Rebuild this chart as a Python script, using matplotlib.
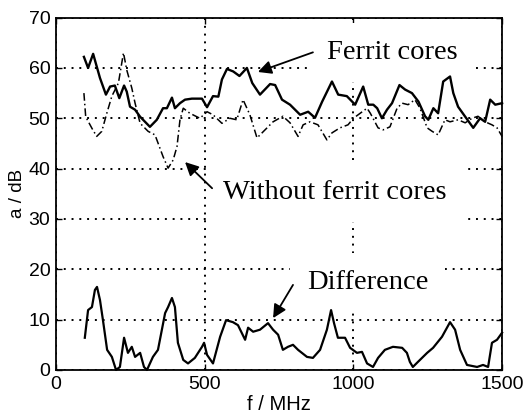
import numpy as np
import matplotlib
matplotlib.use('Agg')
import matplotlib.pyplot as plt

# with ferrit cores
f_ferrit = [94, 108, 125, 148, 168, 182, 198, 213, 229, 238, 249, 266, 283, 316, 339, 360, 373, 390, 400, 417,
            434, 457, 491, 508, 528, 546, 558, 575, 596, 617, 642, 660, 686, 720, 737, 760, 787, 821, 848, 871,
            895, 928, 949, 978, 1006, 1033, 1050, 1067, 1080, 1096, 1113, 1130, 1155, 1174, 1197, 1219, 1241,
            1252, 1269, 1285, 1302, 1325, 1336, 1352, 1375, 1403, 1426, 1443, 1460, 1477, 1500]
a_ferrit = [62.2, 60.0, 62.8, 58.0, 54.7, 56.3, 56.5, 54.0, 56.5, 55.3, 52.3, 51.7, 50.3, 48.3, 49.7, 52.0, 52.0,
            54.1, 52.0, 53.0, 53.7, 53.9, 53.9, 52.2, 54.4, 54.3, 57.7, 59.8, 59.3, 58.4, 60.0, 57.0, 54.7, 56.8,
            56.6, 53.7, 52.7, 50.7, 51.3, 50.1, 53.3, 57.3, 54.7, 54.4, 52.7, 56.3, 52.7, 52.7, 52.0, 50.0, 51.7,
            53.0, 56.6, 55.7, 55.0, 53.3, 50.4, 49.7, 52.0, 51.0, 57.3, 58.3, 55.0, 52.3, 50.4, 48.1, 50.0, 49.3,
            53.7, 52.7, 53.0]

# without ferrit cores
f_without = [94, 100, 121, 137, 154, 171, 188, 210, 227, 238, 255, 266, 283, 310, 333, 360, 377, 394, 407, 417,
             428, 450, 484, 508, 528, 558, 585, 608, 629, 652, 676, 703, 730, 763, 787, 814, 831, 854, 881, 911,
             928, 955, 982, 1000, 1023, 1046, 1057, 1083, 1100, 1123, 1147, 1164, 1184, 1207, 1224, 1248, 1265,
             1285, 1308, 1325, 1352, 1376, 1399, 1419, 1443, 1466, 1483, 1500]
a_without = [55.0, 50.3, 48.0, 46.4, 47.4, 51.0, 54.4, 57.0, 63.0, 59.6, 56.0, 53.0, 49.0, 47.4, 46.7, 42.4, 40.1,
             41.7, 44.4, 49.7, 52.0, 51.0, 50.0, 51.3, 50.7, 49.0, 50.0, 49.7, 53.7, 50.7, 46.1, 47.7, 49.3, 50.4,
             49.1, 46.4, 48.7, 49.3, 48.7, 45.7, 47.1, 48.1, 48.7, 50.0, 51.0, 52.0, 51.0, 48.1, 47.7, 48.3, 52.0,
             53.0, 52.7, 53.7, 52.0, 48.1, 47.4, 46.7, 49.7, 49.3, 49.7, 49.1, 50.0, 50.4, 49.3, 48.7, 48.1, 46.4]

# difference
f_diff = [97, 108, 121, 131, 138, 148, 158, 172, 188, 202, 215, 229, 242, 255, 266, 283, 296, 306, 326, 343,
          367, 377, 390, 400, 410, 428, 444, 467, 491, 498, 508, 528, 552, 572, 595, 612, 636, 646, 663, 686,
          713, 730, 747, 763, 780, 797, 814, 844, 864, 888, 911, 925, 935, 948, 972, 989, 1012, 1029, 1046, 1066,
          1083, 1106, 1133, 1164, 1180, 1190, 1200, 1217, 1248, 1268, 1298, 1325, 1342, 1359, 1382, 1416, 1436,
          1453, 1466, 1483, 1500]
a_diff = [6.4, 11.9, 12.5, 15.9, 16.5, 13.9, 9.9, 4.0, 2.6, 0.0, 0.6, 6.4, 3.4, 4.6, 2.6, 3.4, 0.6, 0.0, 2.6, 4.0,
          11.3, 12.5, 14.3, 12.5, 5.4, 2.0, 1.3, 2.4, 4.6, 5.4, 3.0, 1.3, 6.6, 9.9, 9.5, 8.9, 6.0, 8.4, 7.6, 8.0,
          9.3, 8.0, 7.0, 4.0, 4.6, 5.0, 4.0, 2.6, 2.4, 4.0, 8.0, 11.9, 9.3, 6.4, 6.4, 4.4, 3.4, 3.6, 1.3, 0.6,
          2.4, 4.0, 4.6, 4.4, 3.4, 1.6, 0.6, 1.6, 3.4, 4.4, 6.6, 9.5, 8.0, 4.0, 1.0, 0.6, 1.0, 0.6, 5.4, 6.0, 7.4]

xticks = [0, 500, 1000, 1500]
yticks = [0, 10, 20, 30, 40, 50, 60, 70]

plt.rcParams['font.family'] = ['Liberation Sans', 'DejaVu Sans']

fig = plt.figure(figsize=(5.23, 4.19), dpi=100)
ax = fig.add_axes([0.107, 0.117, 0.853, 0.841])

ax.plot(f_ferrit, a_ferrit, color='black', lw=1.7, zorder=4, clip_on=False)
ax.plot(f_without, a_without, color='black', lw=1.1, ls=(0, (5, 2, 1, 2)), zorder=4, clip_on=False)
ax.plot(f_diff, a_diff, color='black', lw=1.6, zorder=4, clip_on=False)

ax.set_xlim(0, 1500)
ax.set_ylim(0, 70)
ax.set_xticks(xticks)
ax.set_yticks(yticks)
ax.tick_params(direction='in', length=4, width=1, top=True, right=True, labelsize=14, pad=4)
ax.grid(True, color='black', ls=(0, (1, 3)), lw=1.4)
for s in ax.spines.values():
    s.set_linewidth(1.3)

ax.set_xlabel('f / MHz', fontsize=14.5, labelpad=2)
ax.set_ylabel('a / dB', fontsize=13.5, labelpad=2)

# annotations
box = dict(boxstyle='square,pad=0.6', fc='white', ec='none')
ax.text(1132, 61.8, 'Ferrit cores', family='Liberation Serif', fontsize=20.5,
        ha='center', va='baseline', bbox=box, zorder=3)
ax.text(937, 34.0, 'Without ferrit cores', family='Liberation Serif', fontsize=20.5,
        ha='center', va='baseline', bbox=box, zorder=3)
ax.text(1048, 16.1, 'Difference', family='Liberation Serif', fontsize=20.5,
        ha='center', va='baseline', bbox=box, zorder=3)

arr = dict(arrowstyle='-|>', color='black', lw=1.3, mutation_scale=20, shrinkA=0, shrinkB=0)
ax.annotate('', xy=(679, 59.2), xytext=(864, 63.1), arrowprops=arr, zorder=5)
ax.annotate('', xy=(434, 41.3), xytext=(525, 36.1), arrowprops=arr, zorder=5)
ax.annotate('', xy=(730, 10.3), xytext=(797, 16.9), arrowprops=arr, zorder=5)

fig.savefig('out.png', dpi=100)
